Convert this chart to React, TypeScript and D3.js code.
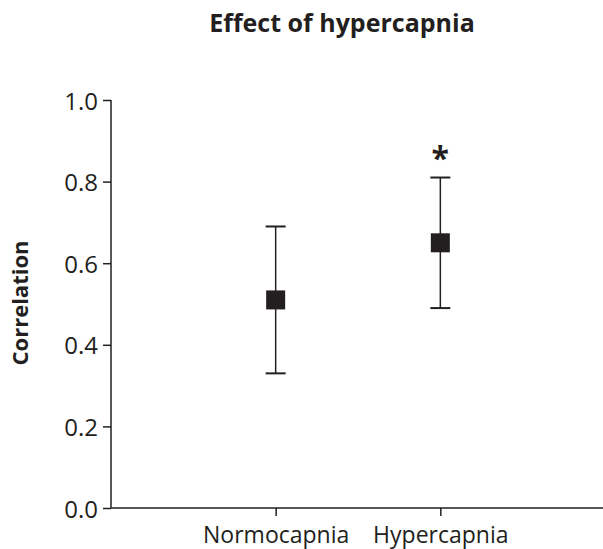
import { useEffect, useRef } from 'react';
import * as d3 from 'd3';

const groups = ['Normocapnia', 'Hypercapnia'];
const means = [0.51, 0.65];
const upper = [0.69, 0.81];
const lower = [0.33, 0.49];
const marks = ['', '*'];
const yTicks = [0, 0.2, 0.4, 0.6, 0.8, 1.0];

const W = 603;
const H = 549;
const INK = '#231f20';
const FONT = '"Open Sans", "Noto Sans", sans-serif';

export default function App() {
  const svgRef = useRef<SVGSVGElement>(null);

  useEffect(() => {
    if (!svgRef.current) return;
    const svg = d3.select(svgRef.current);
    svg.selectAll('*').remove();

    const left = 111;
    const right = 605;
    const top = 100;
    const bottom = 508;

    const x = d3.scalePoint<string>().domain(groups).range([left, right]).padding(1);
    const y = d3.scaleLinear().domain([0, 1]).range([bottom, top]);

    // Title
    svg.append('text')
      .attr('x', 342)
      .attr('y', 32)
      .attr('text-anchor', 'middle')
      .style('font-family', FONT)
      .style('font-weight', 700)
      .style('font-size', '25px')
      .style('fill', INK)
      .text('Effect of hypercapnia');

    // Y axis
    const yAxis = svg.append('g')
      .attr('transform', `translate(${left},0)`)
      .call(d3.axisLeft(y).tickValues(yTicks).tickFormat(d3.format('.1f')).tickSize(8).tickPadding(5));
    yAxis.select('.domain').attr('d', `M0,${top}V${bottom}`).attr('stroke', INK).attr('stroke-width', 1.5);
    yAxis.selectAll('line').attr('stroke', INK).attr('stroke-width', 1.5);
    yAxis.selectAll('text')
      .attr('dy', '0.38em')
      .style('font-family', FONT)
      .style('font-size', '24px')
      .style('fill', INK);

    // X axis
    const xAxis = svg.append('g')
      .attr('transform', `translate(0,${bottom})`)
      .call(d3.axisBottom(x).tickSize(8));
    xAxis.select('.domain').attr('d', `M${left},0H${right}`).attr('stroke', INK).attr('stroke-width', 1.5);
    xAxis.selectAll('line').attr('stroke', INK).attr('stroke-width', 1.5);
    xAxis.selectAll('text')
      .attr('y', 35)
      .attr('dy', '0')
      .style('font-family', FONT)
      .style('font-size', '23px')
      .style('fill', INK);

    // Y label
    svg.append('text')
      .attr('transform', `translate(28,303) rotate(-90)`)
      .attr('text-anchor', 'middle')
      .style('font-family', FONT)
      .style('font-weight', 700)
      .style('font-size', '22px')
      .style('fill', INK)
      .text('Correlation');

    const rows = groups.map((g, i) => ({ g, m: means[i], hi: upper[i], lo: lower[i], mark: marks[i] }));
    const cap = 10;
    const sq = 19;

    const pts = svg.append('g');
    pts.selectAll('.whisker')
      .data(rows)
      .enter()
      .append('line')
      .attr('x1', d => x(d.g)!)
      .attr('x2', d => x(d.g)!)
      .attr('y1', d => y(d.hi))
      .attr('y2', d => y(d.lo))
      .attr('stroke', INK)
      .attr('stroke-width', 1.5);

    ['hi', 'lo'].forEach(k => {
      pts.selectAll(`.cap-${k}`)
        .data(rows)
        .enter()
        .append('line')
        .attr('x1', d => x(d.g)! - cap)
        .attr('x2', d => x(d.g)! + cap)
        .attr('y1', d => y(k === 'hi' ? d.hi : d.lo))
        .attr('y2', d => y(k === 'hi' ? d.hi : d.lo))
        .attr('stroke', INK)
        .attr('stroke-width', 2);
    });

    pts.selectAll('.mean')
      .data(rows)
      .enter()
      .append('rect')
      .attr('x', d => x(d.g)! - sq / 2)
      .attr('y', d => y(d.m) - sq / 2)
      .attr('width', sq)
      .attr('height', sq)
      .attr('fill', INK);

    pts.selectAll('.mark')
      .data(rows.filter(d => d.mark))
      .enter()
      .append('text')
      .attr('x', d => x(d.g)!)
      .attr('y', d => y(d.hi) - 8)
      .attr('text-anchor', 'middle')
      .style('font-family', FONT)
      .style('font-weight', 700)
      .style('font-size', '32px')
      .style('fill', INK)
      .text(d => d.mark);
  }, []);

  return (
    <svg
      ref={svgRef}
      width={W}
      height={H}
      style={{ position: 'absolute', left: 0, top: 0, background: '#fff' }}
    />
  );
}
